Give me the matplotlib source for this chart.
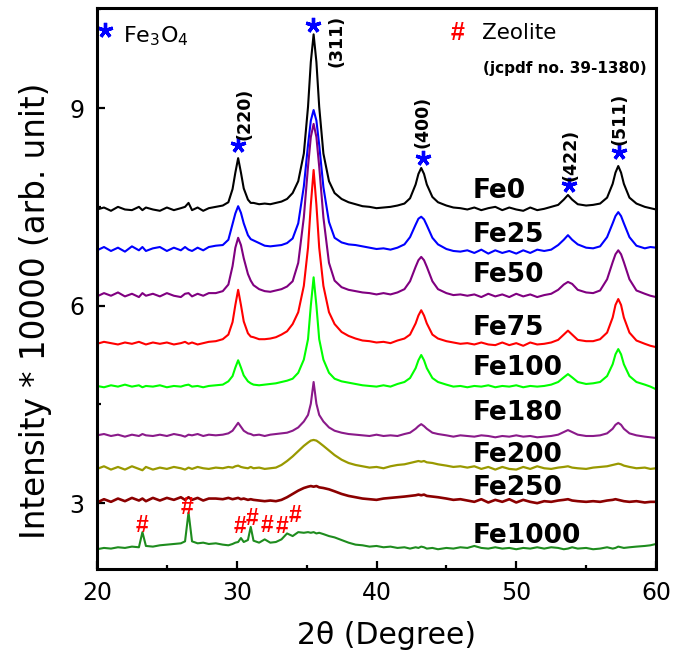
import matplotlib
matplotlib.use("Agg")
import matplotlib.pyplot as plt
from matplotlib.ticker import MultipleLocator

# ---------------- data ----------------
two_theta = [20.0, 20.5, 21.0, 21.5, 22.0, 22.5, 23.0, 23.25, 23.5, 24.0,
             24.5, 25.0, 25.5, 26.0, 26.3, 26.55, 26.8, 27.2, 27.6, 28.0,
             28.5, 29.0, 29.4, 29.7, 29.9, 30.1, 30.3, 30.5, 30.8, 31.0,
             31.2, 31.6, 32.0, 32.4, 32.8, 33.2, 33.6, 34.0, 34.4, 34.8,
             35.1, 35.3, 35.5, 35.7, 35.9, 36.2, 36.6, 37.0, 37.5, 38.0,
             38.5, 39.0, 39.5, 40.0, 40.5, 41.0, 41.5, 42.0, 42.4, 42.8,
             43.0, 43.2, 43.4, 43.6, 44.0, 44.4, 45.0, 45.5, 46.0, 46.5,
             47.0, 47.5, 48.0, 48.5, 49.0, 49.5, 50.0, 50.5, 51.0, 51.5,
             52.0, 52.5, 53.0, 53.4, 53.7, 54.0, 54.4, 55.0, 55.5, 56.0,
             56.5, 56.9, 57.1, 57.3, 57.5, 57.7, 58.1, 58.6, 59.2, 59.6,
             60.0]

fe0 = [7.46, 7.49, 7.44, 7.50, 7.46, 7.45, 7.50, 7.45, 7.49, 7.46,
       7.44, 7.49, 7.45, 7.48, 7.50, 7.56, 7.45, 7.49, 7.44, 7.48,
       7.50, 7.52, 7.57, 7.77, 8.02, 8.24, 8.02, 7.78, 7.61, 7.56,
       7.56, 7.54, 7.55, 7.54, 7.56, 7.58, 7.62, 7.71, 7.89, 8.31,
       9.02, 9.70, 10.12, 9.70, 9.02, 8.31, 7.89, 7.71, 7.62, 7.57,
       7.54, 7.51, 7.50, 7.48, 7.49, 7.50, 7.52, 7.55, 7.63, 7.84,
       8.00, 8.09, 8.00, 7.84, 7.65, 7.57, 7.52, 7.49, 7.48, 7.46,
       7.49, 7.45, 7.48, 7.50, 7.45, 7.49, 7.46, 7.44, 7.49, 7.45,
       7.47, 7.50, 7.53, 7.61, 7.68, 7.61, 7.54, 7.52, 7.53, 7.55,
       7.64, 7.85, 8.02, 8.12, 8.02, 7.85, 7.64, 7.55, 7.50, 7.48,
       7.46]

fe25 = [6.84, 6.89, 6.83, 6.88, 6.82, 6.90, 6.84, 6.89, 6.83, 6.87,
        6.89, 6.83, 6.88, 6.84, 6.89, 6.85, 6.83, 6.88, 6.84, 6.89,
        6.91, 6.92, 7.00, 7.24, 7.40, 7.51, 7.41, 7.25, 7.07, 7.01,
        6.99, 6.95, 6.91, 6.90, 6.91, 6.92, 6.95, 7.02, 7.25, 7.81,
        8.44, 8.81, 8.97, 8.81, 8.44, 7.80, 7.27, 7.03, 6.96, 6.93,
        6.92, 6.90, 6.88, 6.86, 6.87, 6.85, 6.88, 6.93, 7.04, 7.23,
        7.32, 7.35, 7.31, 7.22, 7.03, 6.93, 6.86, 6.83, 6.82, 6.84,
        6.80, 6.85, 6.79, 6.84, 6.80, 6.83, 6.79, 6.84, 6.80, 6.85,
        6.83, 6.85, 6.92, 7.00, 7.07, 7.00, 6.93, 6.88, 6.87, 6.90,
        7.04, 7.25, 7.36, 7.42, 7.36, 7.25, 7.04, 6.91, 6.87, 6.89,
        6.88]

fe50 = [6.14, 6.19, 6.15, 6.20, 6.14, 6.18, 6.13, 6.19, 6.15, 6.18,
        6.14, 6.19, 6.15, 6.13, 6.18, 6.19, 6.14, 6.18, 6.15, 6.19,
        6.19, 6.22, 6.32, 6.60, 6.88, 7.03, 6.92, 6.72, 6.48, 6.38,
        6.31, 6.25, 6.22, 6.21, 6.23, 6.25, 6.29, 6.37, 6.65, 7.34,
        8.11, 8.56, 8.76, 8.56, 8.11, 7.34, 6.65, 6.38, 6.28, 6.24,
        6.22, 6.20, 6.19, 6.17, 6.19, 6.17, 6.20, 6.25, 6.37, 6.59,
        6.69, 6.74, 6.69, 6.59, 6.37, 6.25, 6.19, 6.16, 6.17, 6.15,
        6.17, 6.13, 6.18, 6.14, 6.17, 6.13, 6.18, 6.14, 6.17, 6.13,
        6.16, 6.18, 6.24, 6.32, 6.36, 6.33, 6.24, 6.20, 6.19, 6.23,
        6.40, 6.66, 6.78, 6.84, 6.78, 6.66, 6.40, 6.23, 6.18, 6.15,
        6.13]

fe75 = [5.42, 5.45, 5.43, 5.41, 5.44, 5.42, 5.45, 5.43, 5.41, 5.44,
        5.42, 5.44, 5.41, 5.43, 5.45, 5.42, 5.44, 5.41, 5.43, 5.45,
        5.46, 5.49, 5.56, 5.75, 6.01, 6.24, 6.01, 5.76, 5.58, 5.53,
        5.52, 5.49, 5.49, 5.50, 5.52, 5.56, 5.61, 5.72, 5.90, 6.30,
        6.88, 7.53, 8.06, 7.53, 6.88, 6.30, 5.90, 5.72, 5.60, 5.54,
        5.50, 5.47, 5.46, 5.44, 5.45, 5.43, 5.47, 5.50, 5.56, 5.73,
        5.85, 5.93, 5.85, 5.73, 5.56, 5.50, 5.46, 5.44, 5.42, 5.43,
        5.41, 5.44, 5.41, 5.40, 5.44, 5.40, 5.43, 5.39, 5.44, 5.41,
        5.42, 5.44, 5.48, 5.56, 5.62, 5.56, 5.48, 5.46, 5.46, 5.49,
        5.59, 5.82, 6.01, 6.10, 6.01, 5.82, 5.59, 5.47, 5.42, 5.39,
        5.37]

fe100 = [4.78, 4.76, 4.79, 4.77, 4.80, 4.77, 4.79, 4.76, 4.78, 4.77,
         4.79, 4.76, 4.78, 4.77, 4.79, 4.80, 4.77, 4.78, 4.76, 4.78,
         4.79, 4.80, 4.85, 4.93, 5.06, 5.17, 5.06, 4.94, 4.85, 4.82,
         4.80, 4.79, 4.80, 4.81, 4.82, 4.84, 4.86, 4.89, 4.98, 5.18,
         5.49, 6.00, 6.43, 6.00, 5.49, 5.18, 4.98, 4.89, 4.85, 4.83,
         4.81, 4.79, 4.78, 4.77, 4.79, 4.77, 4.81, 4.84, 4.90, 5.05,
         5.17, 5.25, 5.17, 5.05, 4.90, 4.84, 4.80, 4.77, 4.78, 4.76,
         4.78, 4.77, 4.79, 4.76, 4.78, 4.77, 4.79, 4.76, 4.78, 4.77,
         4.78, 4.80, 4.84, 4.91, 4.96, 4.91, 4.84, 4.81, 4.82, 4.84,
         4.93, 5.11, 5.26, 5.34, 5.26, 5.11, 4.93, 4.84, 4.80, 4.77,
         4.73]

fe180 = [4.03, 4.05, 4.02, 4.04, 4.01, 4.04, 4.02, 4.05, 4.03, 4.02,
         4.04, 4.02, 4.05, 4.03, 4.01, 4.04, 4.03, 4.05, 4.02, 4.04,
         4.03, 4.04, 4.06, 4.10, 4.16, 4.22, 4.16, 4.10, 4.06, 4.05,
         4.03, 4.04, 4.02, 4.04, 4.05, 4.06, 4.07, 4.10, 4.15, 4.24,
         4.34, 4.51, 4.84, 4.51, 4.34, 4.24, 4.15, 4.10, 4.07, 4.05,
         4.04, 4.03, 4.02, 4.04, 4.02, 4.03, 4.02, 4.05, 4.07, 4.13,
         4.17, 4.20, 4.17, 4.13, 4.07, 4.05, 4.03, 4.01, 4.03, 4.02,
         4.01, 4.03, 4.02, 4.00, 4.02, 4.01, 4.03, 4.01, 4.02, 4.00,
         4.01, 4.02, 4.04, 4.08, 4.11, 4.08, 4.04, 4.02, 4.02, 4.03,
         4.06, 4.13, 4.19, 4.22, 4.19, 4.13, 4.06, 4.03, 4.01, 4.00,
         3.99]

fe200 = [3.52, 3.56, 3.51, 3.55, 3.51, 3.56, 3.52, 3.50, 3.55, 3.51,
         3.54, 3.52, 3.55, 3.53, 3.51, 3.54, 3.52, 3.55, 3.53, 3.52,
         3.54, 3.53, 3.55, 3.54, 3.56, 3.57, 3.55, 3.54, 3.53, 3.55,
         3.53, 3.54, 3.52, 3.53, 3.54, 3.58, 3.64, 3.71, 3.79, 3.87,
         3.92, 3.95, 3.96, 3.95, 3.92, 3.87, 3.80, 3.73, 3.66, 3.61,
         3.58, 3.56, 3.54, 3.55, 3.53, 3.56, 3.58, 3.59, 3.61, 3.63,
         3.64, 3.63, 3.64, 3.62, 3.61, 3.59, 3.57, 3.55, 3.56, 3.54,
         3.56, 3.52, 3.55, 3.51, 3.55, 3.52, 3.51, 3.55, 3.52, 3.56,
         3.53, 3.52, 3.54, 3.55, 3.56, 3.54, 3.53, 3.52, 3.54, 3.55,
         3.56, 3.58, 3.59, 3.60, 3.59, 3.57, 3.55, 3.53, 3.54, 3.52,
         3.53]

fe250 = [3.01, 3.06, 3.02, 3.07, 3.03, 3.08, 3.04, 3.07, 3.03, 3.08,
         3.04, 3.08, 3.05, 3.09, 3.05, 3.09, 3.05, 3.08, 3.04, 3.07,
         3.07, 3.06, 3.08, 3.06, 3.07, 3.08, 3.06, 3.07, 3.05, 3.06,
         3.05, 3.04, 3.03, 3.04, 3.03, 3.05, 3.09, 3.14, 3.19, 3.23,
         3.25, 3.26, 3.25, 3.26, 3.24, 3.23, 3.21, 3.18, 3.14, 3.11,
         3.09, 3.07, 3.06, 3.05, 3.07, 3.08, 3.09, 3.10, 3.11, 3.12,
         3.13, 3.12, 3.13, 3.11, 3.10, 3.09, 3.07, 3.05, 3.06, 3.04,
         3.02, 3.06, 3.01, 3.05, 3.02, 3.06, 3.01, 3.05, 3.02, 3.00,
         3.03, 3.02, 3.04, 3.05, 3.06, 3.04, 3.03, 3.02, 3.03, 3.02,
         3.04, 3.05, 3.06, 3.05, 3.04, 3.03, 3.02, 3.03, 3.01, 3.02,
         3.02]

fe1000 = [2.30, 2.32, 2.31, 2.33, 2.32, 2.34, 2.33, 2.56, 2.35, 2.34,
          2.36, 2.37, 2.38, 2.39, 2.42, 2.86, 2.42, 2.39, 2.40, 2.38,
          2.39, 2.37, 2.36, 2.38, 2.40, 2.41, 2.47, 2.41, 2.44, 2.64,
          2.43, 2.40, 2.45, 2.40, 2.41, 2.45, 2.54, 2.50, 2.56, 2.55,
          2.56, 2.55, 2.56, 2.54, 2.55, 2.53, 2.50, 2.48, 2.44, 2.40,
          2.37, 2.36, 2.34, 2.35, 2.33, 2.34, 2.32, 2.33, 2.31, 2.33,
          2.32, 2.34, 2.33, 2.31, 2.32, 2.30, 2.32, 2.31, 2.33, 2.32,
          2.35, 2.32, 2.31, 2.33, 2.31, 2.32, 2.30, 2.32, 2.31, 2.33,
          2.31, 2.33, 2.32, 2.30, 2.31, 2.33, 2.31, 2.32, 2.30, 2.31,
          2.33, 2.31, 2.32, 2.34, 2.33, 2.32, 2.33, 2.34, 2.35, 2.36,
          2.38]

sample_names = ["Fe0", "Fe25", "Fe50", "Fe75", "Fe100", "Fe180", "Fe200", "Fe250", "Fe1000"]
sample_curves = [fe0, fe25, fe50, fe75, fe100, fe180, fe200, fe250, fe1000]
sample_label_y = [7.63, 6.97, 6.36, 5.55, 4.95, 4.26, 3.62, 3.12, 2.39]

# Fe3O4 reflections
hkl_labels = ["(220)", "(311)", "(400)", "(422)", "(511)"]
star_x = [30.09, 35.46, 43.33, 53.78, 57.35]
star_y = [8.44, 10.26, 8.24, 7.83, 8.33]
hkl_x = [30.52, 37.17, 43.26, 53.85, 57.42]
hkl_y = [8.91, 10.02, 8.79, 8.29, 8.84]

# Zeolite reflections marked with '#'
zeo_x = [23.2, 26.41, 30.22, 31.12, 32.14, 33.26, 34.2]
zeo_y = [2.56, 2.84, 2.54, 2.67, 2.56, 2.54, 2.71]

# ---------------- styling ----------------
colors = ["#000000", "#0000ff", "#800080", "#ff0000", "#00ff00",
          "#8a1a8a", "#999900", "#8b0000", "#1e8c1e"]
widths = [1.5, 1.5, 1.5, 1.5, 1.5, 1.5, 1.6, 1.9, 1.5]

plt.rcParams['font.family'] = ['DejaVu Sans']
fig = plt.figure(figsize=(6.91, 6.56), dpi=100)
ax = fig.add_axes([97 / 691, 1 - 569 / 656, (656 - 97) / 691, (569 - 8) / 656])

for ys, c, lw in zip(sample_curves, colors, widths):
    ax.plot(two_theta, ys, color=c, lw=lw, solid_joinstyle='round')

for name, ly in zip(sample_names, sample_label_y):
    ax.text(46.9, ly, name, fontsize=19, fontweight='bold', ha='left', va='baseline')

# Fe3O4 markers and hkl labels
ax.plot(star_x, star_y, linestyle='none', marker=(5, 2, 0), ms=11, mew=2.4,
        color='#0000ff', clip_on=False)
for lab, hx, hy in zip(hkl_labels, hkl_x, hkl_y):
    ax.text(hx, hy, lab, rotation=90, fontsize=12.5, fontweight='bold',
            ha='center', va='center')

# Zeolite markers
for zx, zy in zip(zeo_x, zeo_y):
    ax.text(zx, zy, '#', color='#ff0000', fontsize=16.5, fontweight='bold',
            family='Liberation Sans', ha='center', va='baseline')

# legend-like annotations
ax.plot([20.57], [10.19], linestyle='none', marker=(5, 2, 0), ms=11, mew=2.4,
        color='#0000ff', clip_on=False)
ax.text(21.86, 10.0, r'Fe$_3$O$_4$', fontsize=16, ha='left', va='baseline')
ax.text(45.83, 10.04, '#', color='#ff0000', fontsize=18, fontweight='bold',
        family='Liberation Sans', ha='center', va='baseline')
ax.text(47.55, 10.05, 'Zeolite', fontsize=15.5, ha='left', va='baseline')
ax.text(47.62, 9.60, '(jcpdf no. 39-1380)', fontsize=11, fontweight='bold',
        ha='left', va='center')

ax.set_xlim(20, 60)
ax.set_ylim(2.0, 10.52)
ax.xaxis.set_major_locator(MultipleLocator(10))
ax.xaxis.set_minor_locator(MultipleLocator(5))
ax.yaxis.set_major_locator(MultipleLocator(3))
ax.yaxis.set_minor_locator(MultipleLocator(1.5))
ax.tick_params(which='both', direction='in', top=False, right=False, width=1.6)
ax.tick_params(which='major', length=5.5, labelsize=17, pad=9)
ax.tick_params(which='minor', length=3)
for sp in ax.spines.values():
    sp.set_linewidth(2.2)

fig.text(0.052, 0.526, 'Intensity * 10000 (arb. unit)', rotation=90,
         fontsize=23.5, ha='center', va='center')
fig.text(0.560, 0.032, '2θ (Degree)', fontsize=21.5, ha='center', va='center')

fig.savefig('out.png', dpi=100)
